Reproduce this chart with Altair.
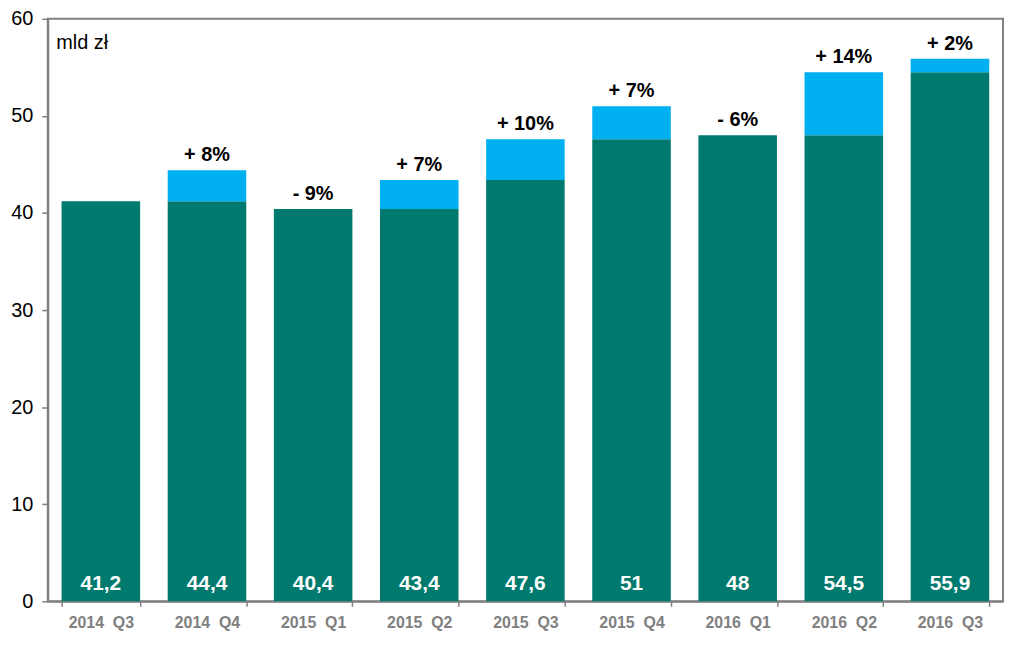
import altair as alt
import pandas as pd

quarters = ["2014\u00a0\u00a0Q3", "2014\u00a0\u00a0Q4", "2015\u00a0\u00a0Q1", "2015\u00a0\u00a0Q2",
            "2015\u00a0\u00a0Q3", "2015\u00a0\u00a0Q4", "2016\u00a0\u00a0Q1", "2016\u00a0\u00a0Q2",
            "2016\u00a0\u00a0Q3"]
values = [41.2, 44.4, 40.4, 43.4, 47.6, 51, 48, 54.5, 55.9]
changes = ["", "+ 8%", "- 9%", "+ 7%", "+ 10%", "+ 7%", "- 6%", "+ 14%", "+ 2%"]

prev = [values[0]] + values[:-1]
base = [min(p, v) for p, v in zip(prev, values)]
labels = [("%g" % v).replace(".", ",") for v in values]

df = pd.DataFrame({
    "q": quarters,
    "value": values,
    "base": base,
    "change": changes,
    "label": labels,
})

FONT = "Liberation Sans"
TEAL = "#007A6E"
BLUE = "#00B0F0"
GREY = "#808080"

x = alt.X("q:N", sort=quarters, title=None,
          scale=alt.Scale(paddingInner=0.26, paddingOuter=0.13),
          axis=alt.Axis(labelAngle=0, labelFont=FONT, labelFontSize=16, labelFontWeight="bold",
                        labelColor=GREY, labelPadding=8, tickBand="extent", tickSize=5,
                        tickColor=GREY, tickWidth=1.5, domainColor=GREY, domainWidth=2))

yscale = alt.Scale(domain=[0, 60], nice=False)
yaxis = alt.Axis(values=[0, 10, 20, 30, 40, 50, 60], grid=False, labelFont=FONT, labelFontSize=20,
                 labelColor="black", labelPadding=9, tickSize=6, tickColor=GREY, tickWidth=1.5,
                 domainColor=GREY, domainWidth=2, title="mld zł", titleAngle=0, titleX=8, titleY=30,
                 titleAlign="left", titleBaseline="alphabetic", titleFont=FONT, titleFontSize=20,
                 titleFontWeight="normal", titleColor="black")

basebar = alt.Chart(df).mark_bar(color=TEAL).encode(
    x=x,
    y=alt.Y("base:Q", scale=yscale, axis=yaxis),
    y2=alt.datum(0),
)

incbar = alt.Chart(df).transform_filter("datum.value > datum.base").mark_bar(color=BLUE).encode(
    x=x,
    y=alt.Y("value:Q", scale=yscale),
    y2="base:Q",
)

vals = alt.Chart(df).mark_text(font=FONT, fontSize=21, fontWeight="bold", color="white",
                               baseline="middle", dy=-17).encode(
    x=x,
    y=alt.Y("zero:Q", scale=yscale),
    text="label:N",
).transform_calculate(zero="0")

pct = alt.Chart(df).mark_text(font=FONT, fontSize=20, fontWeight="bold", color="black",
                              baseline="bottom", dy=-5).encode(
    x=x,
    y=alt.Y("value:Q", scale=yscale),
    text="change:N",
)

chart = alt.layer(basebar, incbar, vals, pct).properties(
    width=961, height=586,
    autosize=alt.AutoSizeParams(type="none"),
    padding={"left": 40, "top": 9, "right": 5, "bottom": 36},
    background="white",
).configure_view(stroke=GREY, strokeWidth=2)

chart.save("out.html", embed_options={"renderer": "svg", "actions": False})
